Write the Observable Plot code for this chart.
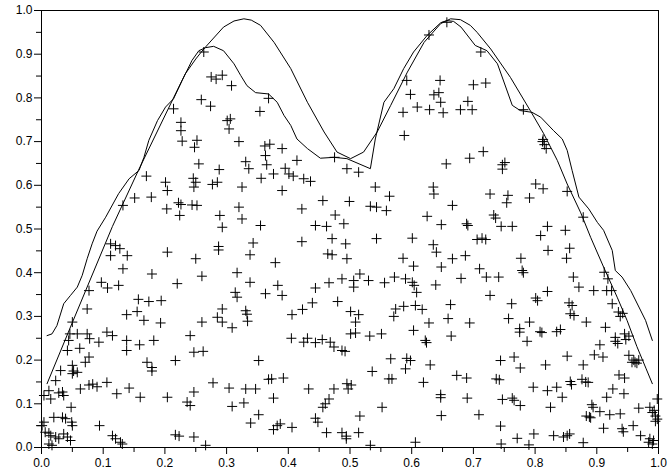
<!DOCTYPE html>
<html><head><meta charset="utf-8">
<script src="https://cdn.jsdelivr.net/npm/d3@7"></script>
<script src="https://cdn.jsdelivr.net/npm/@observablehq/plot@0.6"></script>
<style>body{margin:0;background:#fff}</style>
</head><body><div id="chart"></div>
<script>
// tick positions: minor every 0.05, major (labelled) every 0.1
const minorTicks = [0.05,0.15,0.25,0.35,0.45,0.55,0.65,0.75,0.85,0.95];
const majorTicks = [0,0.1,0.2,0.3,0.4,0.5,0.6,0.7,0.8,0.9,1.0];
const tickLabels = ["0.0","0.1","0.2","0.3","0.4","0.5","0.6","0.7","0.8","0.9","1.0"];

// scatter points [x, y]
const points = [
// upper left
[0.263,0.905],[0.275,0.848],[0.283,0.843],[0.293,0.852],[0.308,0.828],[0.259,0.796],[0.274,0.781],[0.214,0.775],[0.226,0.744],[0.226,0.725],
[0.228,0.701],[0.252,0.703],[0.248,0.687],[0.301,0.748],[0.306,0.752],[0.304,0.729],[0.320,0.700],[0.255,0.649],[0.288,0.636],[0.170,0.621],
[0.201,0.607],[0.204,0.588],[0.246,0.616],[0.250,0.607],[0.247,0.596],[0.277,0.602],[0.285,0.607],[0.132,0.554],[0.151,0.571],[0.178,0.573],
[0.203,0.546],[0.222,0.560],[0.226,0.556],[0.244,0.555],[0.252,0.554],[0.224,0.531],[0.289,0.531],[0.320,0.550],[0.293,0.504],
// lower left
[0.112,0.466],[0.120,0.462],[0.127,0.455],[0.112,0.439],[0.139,0.439],[0.132,0.409],[0.204,0.447],[0.250,0.432],[0.287,0.460],[0.287,0.452],
[0.179,0.397],[0.260,0.392],[0.317,0.400],[0.097,0.378],[0.107,0.365],[0.125,0.371],[0.077,0.359],[0.220,0.375],[0.314,0.355],[0.317,0.344],
[0.157,0.339],[0.174,0.334],[0.194,0.336],[0.074,0.317],[0.138,0.304],[0.155,0.311],[0.166,0.291],[0.193,0.285],[0.293,0.317],[0.285,0.298],
[0.293,0.287],[0.309,0.274],[0.260,0.287],[0.241,0.256],[0.050,0.287],[0.046,0.260],[0.058,0.260],[0.074,0.260],[0.078,0.249],[0.106,0.264],
[0.115,0.256],[0.093,0.241],[0.138,0.245],[0.138,0.222],[0.159,0.235],[0.182,0.245],[0.044,0.245],[0.042,0.222],[0.062,0.227],[0.077,0.207],
[0.071,0.195],[0.171,0.195],[0.179,0.183],[0.179,0.175],[0.217,0.199],[0.247,0.218],[0.262,0.220],[0.031,0.176],[0.050,0.188],[0.052,0.175],
[0.050,0.169],[0.058,0.172],[0.023,0.153],[0.012,0.130],[0.004,0.119],[0.015,0.111],[0.034,0.127],[0.036,0.119],[0.028,0.125],[0.048,0.092],
[0.063,0.134],[0.077,0.143],[0.083,0.145],[0.090,0.139],[0.106,0.149],[0.122,0.123],[0.142,0.136],[0.160,0.115],[0.204,0.115],[0.236,0.104],
[0.241,0.096],[0.247,0.127],[0.278,0.148],[0.304,0.136],[0.309,0.094],[0.004,0.058],[0.001,0.050],[0.020,0.069],[0.034,0.069],[0.039,0.066],
[0.049,0.058],[0.050,0.050],[0.006,0.035],[0.012,0.033],[0.015,0.027],[0.023,0.024],[0.028,0.020],[0.036,0.031],[0.042,0.024],[0.047,0.016],
[0.012,0.008],[0.017,0.005],[0.094,0.050],[0.115,0.027],[0.120,0.020],[0.128,0.012],[0.131,0.008],[0.217,0.029],[0.223,0.026],[0.247,0.024],
[0.266,0.005],
// upper middle
[0.657,0.973],[0.628,0.944],[0.646,0.840],[0.592,0.840],[0.598,0.808],[0.636,0.807],[0.644,0.812],[0.647,0.790],[0.609,0.779],[0.629,0.773],
[0.651,0.766],[0.586,0.767],[0.588,0.714],[0.656,0.649],[0.368,0.799],[0.354,0.769],[0.370,0.694],[0.362,0.690],[0.363,0.668],[0.390,0.684],
[0.331,0.654],[0.336,0.638],[0.365,0.647],[0.376,0.626],[0.395,0.639],[0.401,0.626],[0.408,0.621],[0.414,0.657],[0.425,0.615],[0.436,0.609],
[0.356,0.616],[0.325,0.596],[0.390,0.588],[0.475,0.664],[0.495,0.638],[0.514,0.630],[0.541,0.596],[0.564,0.575],[0.456,0.565],[0.499,0.563],
[0.422,0.546],[0.533,0.552],[0.543,0.550],[0.559,0.542],[0.635,0.596],[0.636,0.580],[0.666,0.554],[0.625,0.529],[0.648,0.510],[0.476,0.532],
[0.490,0.512],[0.355,0.508],[0.444,0.508],[0.462,0.506],[0.325,0.523],
// lower middle
[0.343,0.468],[0.422,0.471],[0.471,0.478],[0.493,0.466],[0.543,0.478],[0.601,0.479],[0.635,0.464],[0.640,0.447],[0.666,0.432],[0.338,0.441],
[0.379,0.423],[0.464,0.443],[0.471,0.441],[0.495,0.432],[0.586,0.433],[0.603,0.415],[0.648,0.413],[0.516,0.397],[0.338,0.378],[0.383,0.371],
[0.390,0.348],[0.363,0.352],[0.444,0.365],[0.466,0.377],[0.487,0.386],[0.506,0.382],[0.506,0.367],[0.530,0.382],[0.556,0.377],[0.572,0.390],
[0.590,0.386],[0.601,0.378],[0.604,0.371],[0.608,0.355],[0.639,0.372],[0.406,0.304],[0.423,0.316],[0.439,0.331],[0.480,0.334],[0.501,0.311],
[0.514,0.304],[0.509,0.287],[0.574,0.317],[0.571,0.300],[0.587,0.323],[0.606,0.325],[0.617,0.316],[0.628,0.285],[0.603,0.268],[0.663,0.327],
[0.659,0.295],[0.664,0.255],[0.331,0.313],[0.333,0.305],[0.334,0.289],[0.405,0.250],[0.425,0.241],[0.431,0.250],[0.444,0.240],[0.455,0.247],
[0.468,0.241],[0.474,0.230],[0.487,0.222],[0.492,0.220],[0.501,0.260],[0.509,0.262],[0.532,0.255],[0.551,0.260],[0.622,0.245],[0.624,0.240],
[0.352,0.199],[0.566,0.203],[0.592,0.204],[0.598,0.199],[0.590,0.180],[0.630,0.189],[0.536,0.174],[0.563,0.157],[0.568,0.157],[0.619,0.149],
[0.368,0.156],[0.373,0.157],[0.392,0.159],[0.331,0.134],[0.347,0.134],[0.328,0.102],[0.376,0.113],[0.433,0.134],[0.474,0.134],[0.495,0.146],
[0.497,0.134],[0.502,0.143],[0.466,0.111],[0.460,0.100],[0.456,0.092],[0.552,0.092],[0.516,0.072],[0.647,0.121],[0.647,0.114],[0.648,0.073],
[0.352,0.075],[0.339,0.056],[0.376,0.041],[0.382,0.050],[0.387,0.054],[0.406,0.046],[0.444,0.067],[0.448,0.058],[0.462,0.034],[0.487,0.034],
[0.494,0.026],[0.494,0.020],[0.514,0.034],[0.533,0.005],[0.606,0.012],
// upper right
[0.712,0.905],[0.700,0.830],[0.720,0.834],[0.691,0.792],[0.679,0.773],[0.698,0.773],[0.781,0.773],[0.813,0.705],[0.815,0.693],[0.818,0.684],
[0.812,0.700],[0.694,0.662],[0.716,0.677],[0.747,0.647],[0.751,0.652],[0.747,0.637],[0.801,0.603],[0.813,0.592],[0.852,0.586],[0.727,0.580],
[0.756,0.577],[0.754,0.560],[0.791,0.571],[0.878,0.527],[0.733,0.532],[0.736,0.525],[0.689,0.512],[0.691,0.508],[0.745,0.506],[0.763,0.506],
[0.820,0.506],
// lower right
[0.849,0.497],[0.809,0.485],[0.706,0.476],[0.714,0.479],[0.720,0.476],[0.856,0.456],[0.851,0.433],[0.821,0.451],[0.687,0.439],[0.777,0.433],
[0.710,0.409],[0.680,0.387],[0.721,0.390],[0.741,0.390],[0.779,0.405],[0.781,0.400],[0.862,0.390],[0.871,0.367],[0.912,0.401],[0.918,0.386],
[0.895,0.359],[0.916,0.359],[0.924,0.359],[0.925,0.329],[0.935,0.310],[0.942,0.307],[0.938,0.300],[0.727,0.348],[0.801,0.342],[0.804,0.336],
[0.820,0.357],[0.762,0.329],[0.855,0.331],[0.860,0.325],[0.857,0.306],[0.863,0.302],[0.883,0.287],[0.914,0.275],[0.694,0.285],[0.757,0.295],
[0.791,0.287],[0.775,0.272],[0.775,0.264],[0.787,0.243],[0.808,0.265],[0.811,0.263],[0.835,0.265],[0.841,0.270],[0.905,0.235],[0.930,0.252],
[0.945,0.260],[0.952,0.255],[0.947,0.247],[0.930,0.243],[0.934,0.238],[0.744,0.199],[0.766,0.207],[0.776,0.182],[0.817,0.189],[0.852,0.209],
[0.878,0.189],[0.896,0.212],[0.910,0.207],[0.952,0.211],[0.957,0.195],[0.962,0.195],[0.960,0.200],[0.965,0.193],[0.968,0.200],[0.673,0.165],
[0.689,0.159],[0.737,0.157],[0.742,0.155],[0.797,0.138],[0.820,0.130],[0.835,0.138],[0.844,0.115],[0.857,0.151],[0.859,0.144],[0.876,0.156],
[0.882,0.150],[0.886,0.149],[0.936,0.166],[0.945,0.159],[0.926,0.134],[0.916,0.115],[0.944,0.123],[0.690,0.113],[0.747,0.110],[0.763,0.113],
[0.766,0.108],[0.776,0.096],[0.825,0.092],[0.709,0.075],[0.892,0.098],[0.894,0.092],[0.905,0.082],[0.883,0.072],[0.888,0.070],[0.890,0.068],
[0.921,0.075],[0.938,0.077],[0.968,0.090],[0.986,0.092],[0.993,0.085],[0.990,0.080],[0.995,0.072],[0.998,0.065],[0.995,0.060],[0.998,0.111],
[0.744,0.049],[0.771,0.021],[0.790,0.006],[0.798,0.031],[0.745,0.008],[0.830,0.027],[0.852,0.027],[0.856,0.031],[0.846,0.024],[0.878,0.011],
[0.911,0.044],[0.941,0.043],[0.943,0.036],[0.959,0.050],[0.971,0.027],[0.984,0.012],[0.990,0.008],[0.992,0.016],[0.986,0.020]
];

// smooth two-peaked curve [x, y]
const smoothCurve = [
[0.009,0.146],[0.050,0.286],[0.115,0.506],[0.157,0.634],[0.214,0.800],[0.233,0.855],[0.250,0.889],[0.263,0.912],[0.279,0.937],[0.295,0.962],
[0.312,0.976],[0.328,0.981],[0.340,0.978],[0.355,0.966],[0.377,0.927],[0.404,0.867],[0.431,0.790],[0.458,0.722],[0.479,0.676],[0.501,0.661],
[0.522,0.676],[0.544,0.722],[0.566,0.783],[0.593,0.859],[0.620,0.927],[0.647,0.970],[0.663,0.981],[0.679,0.979],[0.695,0.966],[0.706,0.950],
[0.728,0.912],[0.760,0.847],[0.793,0.769],[0.814,0.718],[0.836,0.657],[0.852,0.603],[0.874,0.537],[0.890,0.481],[0.911,0.413],[0.933,0.344],
[0.949,0.291],[0.965,0.231],[0.980,0.180],[0.990,0.146]
];

// wiggly upper-edge curve [x, y]
const edgeCurve = [
[0.009,0.256],[0.017,0.260],[0.025,0.279],[0.036,0.329],[0.047,0.348],[0.058,0.367],[0.066,0.394],[0.074,0.432],[0.082,0.466],[0.090,0.495],
[0.104,0.527],[0.125,0.581],[0.142,0.615],[0.158,0.634],[0.166,0.664],[0.174,0.703],[0.188,0.748],[0.201,0.779],[0.214,0.798],[0.228,0.840],
[0.244,0.886],[0.255,0.908],[0.266,0.915],[0.279,0.918],[0.295,0.908],[0.312,0.878],[0.323,0.851],[0.333,0.828],[0.347,0.812],[0.368,0.809],
[0.382,0.790],[0.393,0.760],[0.404,0.737],[0.414,0.706],[0.431,0.684],[0.452,0.662],[0.474,0.664],[0.495,0.661],[0.533,0.638],[0.541,0.706],
[0.555,0.790],[0.571,0.821],[0.587,0.867],[0.603,0.905],[0.625,0.943],[0.647,0.972],[0.657,0.977],[0.668,0.975],[0.680,0.962],[0.703,0.920],
[0.722,0.908],[0.739,0.878],[0.763,0.783],[0.776,0.771],[0.795,0.767],[0.809,0.756],[0.830,0.725],[0.844,0.706],[0.852,0.680],[0.860,0.634],
[0.871,0.573],[0.887,0.546],[0.901,0.515],[0.911,0.497],[0.925,0.451],[0.930,0.405],[0.941,0.390],[0.955,0.359],[0.979,0.291],[0.990,0.245]
];

const plus = {
  draw(ctx, size) {
    const r = Math.sqrt(size / Math.PI);
    ctx.moveTo(-r, 0); ctx.lineTo(r, 0);
    ctx.moveTo(0, -r); ctx.lineTo(0, r);
  }
};
const fmt = d => tickLabels[Math.round(d * 10)];
const font = "'Liberation Sans', Arial, sans-serif";

const chart = Plot.plot({
  width: 668, height: 476,
  marginLeft: 41, marginRight: 10, marginTop: 10, marginBottom: 29,
  style: {fontFamily: font, fontSize: "12px", color: "black", background: "white"},
  x: {domain: [0, 1]},
  y: {domain: [0, 1]},
  marks: [
    Plot.axisX({ticks: minorTicks, tickSize: 5, tickFormat: () => "", label: null}),
    Plot.axisX({ticks: majorTicks, tickSize: 7, tickPadding: 4, tickFormat: fmt, label: null, fontSize: 12, fontFamily: font}),
    Plot.axisY({ticks: minorTicks, tickSize: 5, tickFormat: () => "", label: null}),
    Plot.axisY({ticks: majorTicks, tickSize: 7, tickPadding: 2, tickFormat: fmt, label: null, fontSize: 12, fontFamily: font}),
    Plot.dot(points, {x: d => d[0], y: d => d[1], symbol: plus, r: 5, stroke: "black", strokeWidth: 1, fill: "none"}),
    Plot.line(smoothCurve, {x: d => d[0], y: d => d[1], stroke: "black", strokeWidth: 1}),
    Plot.line(edgeCurve, {x: d => d[0], y: d => d[1], stroke: "black", strokeWidth: 1}),
    Plot.frame({stroke: "black"})
  ]
});
document.getElementById("chart").appendChild(chart);
</script>
</body></html>
